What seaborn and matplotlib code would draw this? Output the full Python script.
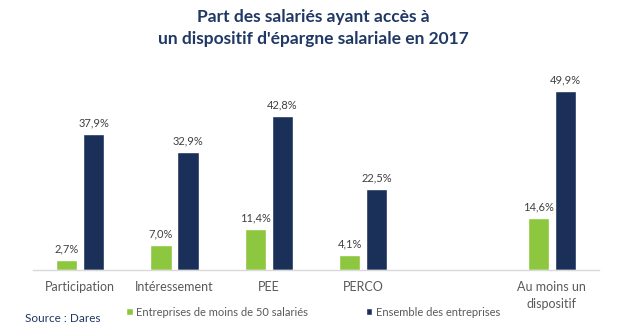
import matplotlib
matplotlib.use("Agg")
import matplotlib.pyplot as plt
import seaborn as sns
import pandas as pd

# Data
categories = ["Participation", "Intéressement", "PEE", "PERCO", "Au moins un\ndispositif"]
small_firms = [2.7, 7.0, 11.4, 4.1, 14.6]
all_firms = [37.9, 32.9, 42.8, 22.5, 49.9]
series_names = ["Entreprises de moins de 50 salariés", "Ensemble des entreprises"]
title = "Part des salariés ayant accès à\nun dispositif d'épargne salariale en 2017"
source = "Source : Dares"

GREEN = "#8DC63F"
NAVY = "#1B3058"
GREY = "#595959"

df = pd.DataFrame({
    "categorie": categories * 2,
    "serie": [series_names[0]] * len(categories) + [series_names[1]] * len(categories),
    "valeur": small_firms + all_firms,
})

# a blank slot separates the single measures from the overall one
order = categories[:4] + [" "] + categories[4:]

sns.set_theme(style="white")
plt.rcParams["font.family"] = ["Lato", "DejaVu Sans"]

fig = plt.figure(figsize=(6.43, 3.32), dpi=100)
ax = fig.add_axes([33 / 643, 62 / 332, 566 / 643, 201 / 332])

sns.barplot(data=df, x="categorie", y="valeur", hue="serie", order=order,
            hue_order=series_names, palette=[GREEN, NAVY], width=0.574,
            gap=0.22, saturation=1, ax=ax)

for cont in ax.containers:
    vals = cont.datavalues
    ax.bar_label(cont, labels=[f"{v:.1f}%".replace(".", ",") for v in vals],
                 padding=4, fontsize=8, color="#404040")

ax.set_ylim(0, 56)
ax.set_xlim(-0.5, 5.5)
ax.set_xlabel("")
ax.set_ylabel("")
ax.set_yticks([])
ax.tick_params(axis="x", length=0, pad=8, labelsize=9, labelcolor=GREY)
for lbl in ax.get_xticklabels():
    lbl.set_linespacing(1.45)
for side in ["top", "right", "left"]:
    ax.spines[side].set_visible(False)
ax.spines["bottom"].set_color("#D9D9D9")
ax.spines["bottom"].set_linewidth(1)

handles, labels = ax.get_legend_handles_labels()
ax.get_legend().remove()
fig.legend(handles, labels, loc="center left", bbox_to_anchor=(126 / 643, 1 - 312 / 332),
           ncol=2, frameon=False, fontsize=8, handlelength=0.6, handleheight=0.6,
           handletextpad=0.3, columnspacing=5.2, labelcolor=GREY, borderaxespad=0,
           borderpad=0)

fig.text(25 / 643, 1 - 319 / 332, source, fontsize=8.5, color="#1F3864", va="center")
fig.text(313 / 643, 1 - 28 / 332, title, fontsize=12.5, fontweight="bold", color="#1F3864",
         ha="center", va="center", linespacing=1.4)

fig.savefig("out.png", dpi=100)
